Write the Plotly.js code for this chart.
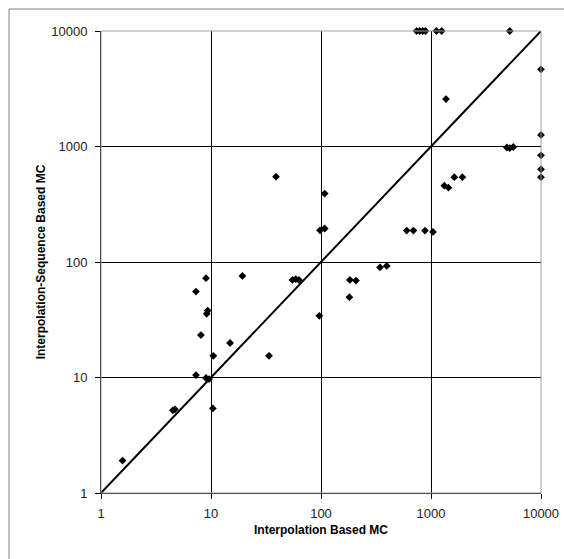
<!DOCTYPE html>
<html>
<head>
<meta charset="utf-8">
<script src="https://cdn.plot.ly/plotly-3.0.1.min.js"></script>
<style>html,body{margin:0;padding:0;background:#fff;}#chart{width:564px;height:559px;}</style>
</head>
<body>
<div id="chart"></div>
<script>
// Data
const interpMC = [1.57, 4.5, 4.7, 7.3, 9.0, 9.6, 10.4, 10.5, 14.9, 33.7,
  8.1, 9.33, 9.14, 7.3, 9.0, 19.3, 55, 59, 63, 96.5,
  98, 108, 108, 39, 181, 183, 208, 344, 396, 601,
  692, 882, 1043, 1322, 1439, 1629, 1928, 1368, 4900, 5200,
  5600, 10000, 10000, 10000, 10000, 10000, 740, 790, 840, 890,
  1120, 1250, 5200];
const seqMC = [1.91, 5.2, 5.3, 10.5, 9.9, 9.7, 5.4, 15.4, 19.9, 15.4,
  23.3, 38, 35.6, 55.5, 72.4, 75.8, 70, 71, 70, 34.2,
  188, 195, 391, 548, 49.6, 70, 69, 90, 92.5, 187,
  187, 187, 182, 458, 440, 542, 542, 2575, 980, 970,
  990, 4656, 1259, 839, 635, 542, 10000, 10000, 10000, 10000,
  10000, 10000, 10000];
const diagX = [1, 10000];
const diagY = [1, 10000];
const tickVals = [1, 10, 100, 1000, 10000];
const tickText = ["1", "10", "100", "1000", "10000"];

const font = "Liberation Sans, Arial, sans-serif";

const traces = [
  {x: diagX, y: diagY, mode: "lines", type: "scatter",
   line: {color: "#000", width: 2}, hoverinfo: "skip"},
  {x: interpMC, y: seqMC, mode: "markers", type: "scatter",
   marker: {symbol: "diamond", size: 6, color: "#000"}, cliponaxis: false}
];

const axisCommon = {
  type: "log", range: [0, 4], tickvals: tickVals, ticktext: tickText,
  showgrid: true, gridcolor: "#000", gridwidth: 1,
  showline: true, linecolor: "#000", linewidth: 1,
  ticks: "outside", ticklen: 5, tickcolor: "#000",
  tickfont: {family: font, size: 13, color: "#222"},
  zeroline: false, fixedrange: true
};

const layout = {
  width: 564, height: 559,
  margin: {l: 101, r: 23, t: 31, b: 66},
  paper_bgcolor: "#fff", plot_bgcolor: "#fff",
  showlegend: false,
  xaxis: Object.assign({}, axisCommon, {
    ticklabelstandoff: 3,
    title: {text: "<b>Interpolation Based MC</b>", standoff: 6,
            font: {family: font, size: 12, color: "#000"}}
  }),
  yaxis: Object.assign({}, axisCommon, {
    ticklabelstandoff: 5,
    title: {text: "<b>Interpolation-Sequence Based MC</b>", standoff: 3,
            font: {family: font, size: 12, color: "#000"}}
  }),
  shapes: [
    {type: "rect", xref: "paper", yref: "paper", x0: 0, x1: 1, y0: 0, y1: 1,
     line: {color: "#a0a0a0", width: 1}, layer: "above"},
    {type: "rect", xref: "paper", yref: "paper", x0: -0.209, x1: 1.1, y0: -0.2, y1: 1.0476,
     line: {color: "#808080", width: 1}, layer: "below"}
  ]
};

Plotly.newPlot("chart", traces, layout, {displayModeBar: false, staticPlot: true});
</script>
</body>
</html>
